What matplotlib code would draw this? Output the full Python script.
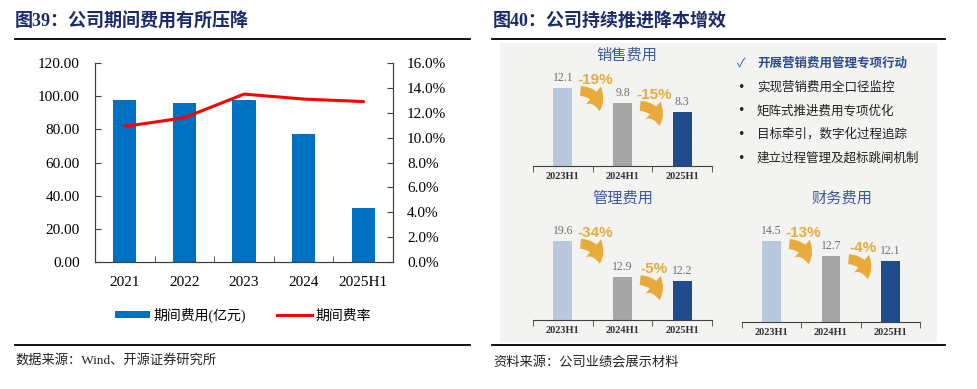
import matplotlib
matplotlib.use("Agg")
import matplotlib.pyplot as plt
from matplotlib.patches import FancyArrowPatch, Rectangle, Patch
from matplotlib.lines import Line2D

# ---- data ----
years = ["2021", "2022", "2023", "2024", "2025H1"]
expense = [97.7, 95.8, 97.8, 77.0, 32.4]          # 期间费用(亿元)
expense_rate = [0.109, 0.116, 0.135, 0.131, 0.129]  # 期间费率

periods = ["2023H1", "2024H1", "2025H1"]
sales_fee = [12.1, 9.8, 8.3]
sales_chg = ["-19%", "-15%"]
admin_fee = [19.6, 12.9, 12.2]
admin_chg = ["-34%", "-5%"]
fin_fee = [14.5, 12.7, 12.1]
fin_chg = ["-13%", "-4%"]

bullets = ["实现营销费用全口径监控", "矩阵式推进费用专项优化",
           "目标牵引，数字化过程追踪", "建立过程管理及超标跳闸机制"]
bullet_head = "开展营销费用管理专项行动"

W, H = 978, 389
SERIF = ["Liberation Serif", "Noto Sans CJK SC"]
SANS = ["Noto Sans CJK SC", "DejaVu Sans"]

fig = plt.figure(figsize=(W / 100, H / 100), dpi=100)
fig.patch.set_facecolor("white")


def fx(x):
    return x / W


def fy(y):
    return 1 - y / H


def px_axes(x0, y0, x1, y1):
    return fig.add_axes([fx(x0), fy(y1), (x1 - x0) / W, (y1 - y0) / H])


def hline(x0, x1, y, lw=1.3):
    fig.add_artist(Line2D([fx(x0), fx(x1)], [fy(y), fy(y)], color="black", lw=lw))


# ---- headers / footers ----
navy = "#1b2a6b"
fig.text(fx(15), fy(22), "图39：公司期间费用有所压降", family=SERIF, weight="bold",
         fontsize=13, color=navy, va="center")
fig.text(fx(493), fy(22), "图40：公司持续推进降本增效", family=SERIF, weight="bold",
         fontsize=13, color=navy, va="center")
hline(15, 470, 39)
hline(492, 945, 39)
hline(15, 470, 345)
hline(492, 945, 345)
fig.text(fx(15), fy(360), "数据来源：Wind、开源证券研究所", family=SERIF,
         fontsize=9.5, color="#222222", va="center")
fig.text(fx(493), fy(362), "资料来源：公司业绩会展示材料", family=SERIF,
         fontsize=9.5, color="#222222", va="center")

# ---- left chart ----
ax = px_axes(95, 63, 393, 262)
x = range(len(years))
ax.bar(x, expense, width=0.39, color="#0070c0", zorder=2)
ax.set_xlim(-0.5, len(years) - 0.5)
ax.set_ylim(0, 120)
ax.set_yticks([0, 20, 40, 60, 80, 100, 120])
ax.set_yticklabels([f"{v:.2f}" for v in ax.get_yticks()], family="Liberation Serif", fontsize=11)
ax.set_xticks(list(x))
ax.set_xticklabels(years, family="Liberation Serif", fontsize=11)
ax.set_xticks([i + 0.5 for i in range(len(years) - 1)], minor=True)
ax.tick_params(axis="x", which="major", length=0, pad=10)
ax.tick_params(axis="x", which="minor", direction="in", length=4, color="#404040")
ax.tick_params(axis="y", direction="in", length=4, pad=11, color="#404040")
ax.spines["top"].set_visible(False)
for s in ["left", "bottom", "right"]:
    ax.spines[s].set_color("#404040")

ax2 = ax.twinx()
ax2.plot(list(x), expense_rate, color="#ff0000", lw=2.2, zorder=3)
ax2.set_ylim(0, 0.16)
ax2.set_yticks([i * 0.02 for i in range(9)])
ax2.set_yticklabels([f"{v * 100:.1f}%" for v in ax2.get_yticks()],
                    family="Liberation Serif", fontsize=11)
ax2.tick_params(axis="y", direction="in", length=4, pad=10, color="#404040")
ax2.spines["top"].set_visible(False)
for s in ["left", "bottom", "right"]:
    ax2.spines[s].set_color("#404040")

handles = [Patch(facecolor="#0070c0", edgecolor="none"),
           Line2D([], [], color="#ff0000", lw=2.2)]
fig.legend(handles, ["期间费用(亿元)", "期间费率"], loc="center",
           bbox_to_anchor=(fx(243), fy(315)), ncol=2, frameon=False,
           prop={"family": SERIF, "size": 10}, handlelength=2.5,
           handleheight=0.5, columnspacing=2.2, handletextpad=0.3)

# ---- right panel ----
fig.add_artist(Rectangle((fx(500), fy(342)), (937 - 500) / W, (342 - 43) / H,
                         transform=fig.transFigure, facecolor="#f3f3f1",
                         edgecolor="none", zorder=0))

bar_colors = ["#b9c8dc", "#a6a6a6", "#1f4b8f"]
orange = "#e8aa3a"


def mini_chart(rect, vals, chg, ylim, title, title_xy):
    a = px_axes(*rect)
    a.set_facecolor("none")
    xs = range(len(periods))
    a.bar(xs, vals, width=0.32, color=bar_colors)
    a.set_xlim(-0.5, 2.5)
    a.set_ylim(*ylim)
    for s in ["left", "top", "right"]:
        a.spines[s].set_visible(False)
    a.spines["bottom"].set_color("#404040")
    a.set_yticks([])
    a.set_xticks(list(xs))
    a.set_xticklabels(periods, family="Liberation Serif", fontsize=7.5,
                      weight="bold", color="#333333")
    a.set_xticks([-0.5, 0.5, 1.5, 2.5], minor=True)
    a.tick_params(axis="x", which="major", length=0, pad=4)
    a.tick_params(axis="x", which="minor", direction="out", length=4, color="#404040")
    for i, v in enumerate(vals):
        a.annotate(f"{v}", (i, v), xytext=(0, 4), textcoords="offset pixels",
                   ha="center", va="bottom", family="Liberation Serif",
                   fontsize=8.5, color="#707070")
    inv = fig.transFigure.inverted()
    for i, c in enumerate(chg):
        sx, sy = a.transData.transform((i + 0.25, vals[i]))
        p0 = inv.transform((sx, sy - 3))
        p1 = inv.transform((sx + 22, sy - 26))
        arr = FancyArrowPatch(p0, p1, transform=fig.transFigure,
                              arrowstyle="simple,head_length=0.6,head_width=0.85,tail_width=0.36",
                              connectionstyle="arc3,rad=-0.5", mutation_scale=20,
                              color=orange, lw=0)
        fig.add_artist(arr)
        tp = inv.transform((sx + 17, sy + 8))
        fig.text(tp[0], tp[1], c, ha="center", va="center",
                 family=["Liberation Sans", "DejaVu Sans"],
                 weight="bold", fontsize=11, color=orange)
    fig.text(fx(title_xy[0]), fy(title_xy[1]), title, ha="center", va="center",
             family=SANS, fontsize=11, color="#3d5a99")


mini_chart((533, 60, 712, 166), sales_fee, sales_chg, (0, 16.4), "销售费用", (627, 55))
mini_chart((533, 215, 712, 320), admin_fee, admin_chg, (5.0, 24.3), "管理费用", (623, 198))
mini_chart((742, 215, 920, 322), fin_fee, fin_chg, (4.8, 17.6), "财务费用", (842, 198))

# bullet list
fig.text(fx(741), fy(63), "✓", family=SANS, fontsize=9, color="#3a5a9a",
         ha="center", va="center")
fig.text(fx(757), fy(63), bullet_head, family=SANS, fontsize=9, weight="bold",
         color="#2f4d8c", va="center")
for k, t in enumerate(bullets):
    yy = 87 + k * 23.7
    fig.text(fx(741), fy(yy), "•", family=["DejaVu Sans"], fontsize=9, color="#222222",
             ha="center", va="center")
    fig.text(fx(757), fy(yy), t, family=SANS, fontsize=9, color="#222222", va="center")

fig.savefig("out.png", dpi=100)
